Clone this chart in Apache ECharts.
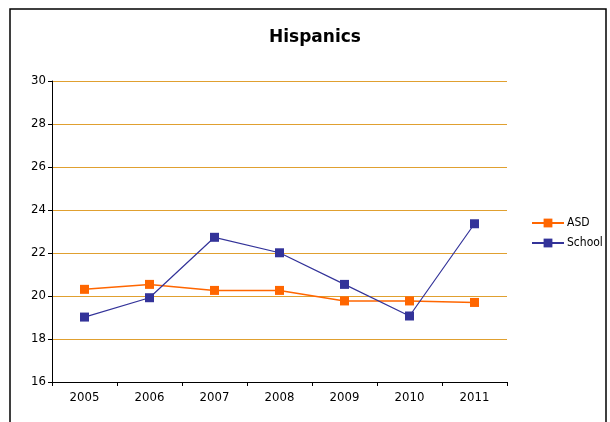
<!DOCTYPE html>
<html><head><meta charset="utf-8">
<script src="https://cdn.jsdelivr.net/npm/echarts@6/dist/echarts.min.js"></script>
<style>html,body{margin:0;padding:0;background:#fff}#c{width:610px;height:422px}</style>
</head><body><div id="c"></div>
<script>
const categories = ['2005','2006','2007','2008','2009','2010','2011'];
const asd = [20.31, 20.54, 20.26, 20.26, 19.77, 19.77, 19.70];
const school = [19.02, 19.92, 22.73, 22.01, 20.54, 19.07, 23.36];
const yTicks = {min: 16, max: 30, interval: 2};

const chart = echarts.init(document.getElementById('c'), null, {renderer: 'canvas'});
const font = '"DejaVu Sans Condensed", "DejaVu Sans", sans-serif';
chart.setOption({
  animation: false,
  backgroundColor: '#fff',
  title: {text: 'Hispanics', left: 310, textAlign: 'center', top: 24,
    textStyle: {fontFamily: '"DejaVu Sans", sans-serif', fontSize: 17, fontWeight: 'bold', color: '#000'}},
  graphic: [{type: 'rect', shape: {x: 10, y: 9, width: 596, height: 430},
    style: {fill: 'none', stroke: '#000', lineWidth: 1.5}, z: 100}],
  grid: {left: 52, right: 103, top: 81, bottom: 40, containLabel: false},
  legend: {orient: 'vertical', left: 526, top: 212, itemGap: 8, itemWidth: 32, itemHeight: 11,
    itemGap: 8, textStyle: {fontFamily: font, fontSize: 12, color: '#000', padding: [0, 0, 0, -2]},
    data: ['ASD', 'School']},
  xAxis: {type: 'category', data: categories, boundaryGap: true,
    axisLine: {lineStyle: {color: '#000', width: 1}},
    axisTick: {show: true, inside: false, length: 4, lineStyle: {color: '#000'}},
    axisLabel: {fontFamily: font, fontSize: 13, color: '#000', margin: 9},
    splitLine: {show: false}},
  yAxis: {type: 'value', min: yTicks.min, max: yTicks.max, interval: yTicks.interval,
    axisLine: {show: true, lineStyle: {color: '#000', width: 1}},
    axisTick: {show: true, length: 4, lineStyle: {color: '#000'}},
    axisLabel: {fontFamily: font, fontSize: 13, color: '#000', margin: 6},
    splitLine: {show: true, lineStyle: {color: '#E0A030', width: 1}}},
  series: [
    {name: 'ASD', type: 'line', data: asd, symbol: 'rect', symbolSize: 9,
      itemStyle: {color: '#FF6600'}, lineStyle: {color: '#FF6600', width: 1.5}},
    {name: 'School', type: 'line', data: school, symbol: 'rect', symbolSize: 9,
      itemStyle: {color: '#333399'}, lineStyle: {color: '#333399', width: 1.2}}
  ]
});
</script></body></html>
